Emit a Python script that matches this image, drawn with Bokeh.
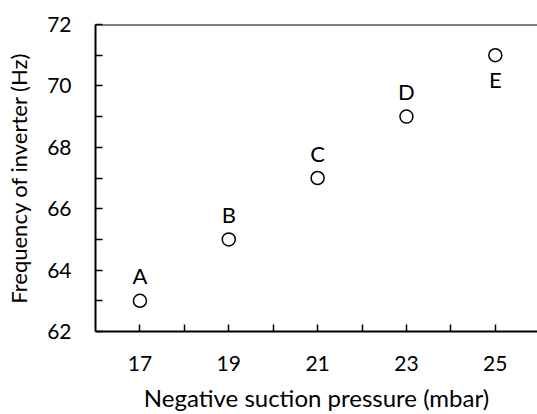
from bokeh.plotting import figure
from bokeh.models import FixedTicker, Span, Range1d
from bokeh.core.properties import value
from bokeh.embed import file_html
from bokeh.resources import INLINE

# Data
pressure = [17, 19, 21, 23, 25]
frequency = [63, 65, 67, 69, 71]
point_labels = ["A", "B", "C", "D", "E"]
x_ticks = [17, 19, 21, 23, 25]
x_minor = [18, 20, 22, 24]
y_ticks = [62, 64, 66, 68, 70, 72]
y_minor = [63, 65, 67, 69, 71]

FONT = "Lato"

p = figure(width=537, height=414, output_backend="svg", toolbar_location=None,
           x_range=Range1d(16, 25.95), y_range=Range1d(62, 72),
           min_border_left=95, min_border_right=0, min_border_top=24, min_border_bottom=82)
p.outline_line_color = None
p.grid.grid_line_color = None
p.background_fill_color = "white"
p.border_fill_color = "white"

p.xaxis.ticker = FixedTicker(ticks=x_ticks, minor_ticks=x_minor)
p.yaxis.ticker = FixedTicker(ticks=y_ticks, minor_ticks=y_minor)

for ax in (p.xaxis[0], p.yaxis[0]):
    ax.axis_line_width = 2
    ax.axis_line_color = "black"
    ax.major_tick_line_color = "black"
    ax.minor_tick_line_color = "black"
    ax.major_tick_line_width = 1.5
    ax.minor_tick_line_width = 1.5
    ax.major_tick_in = 7
    ax.major_tick_out = 0
    ax.minor_tick_in = 7
    ax.minor_tick_out = 0
    ax.major_label_text_font = FONT
    ax.major_label_text_font_size = "21px"
    ax.major_label_text_color = "black"
    ax.axis_label_text_font = FONT
    ax.axis_label_text_font_style = "normal"
    ax.axis_label_text_color = "black"

p.xaxis.axis_label = "Negative suction pressure (mbar)"
p.yaxis.axis_label = "Frequency of inverter (Hz)"
p.xaxis.axis_label_text_font_size = "24px"
p.yaxis.axis_label_text_font_size = "22px"
p.xaxis.major_label_standoff = 24
p.xaxis.axis_label_standoff = 9
p.yaxis.major_label_standoff = 24
p.yaxis.axis_label_standoff = 12

p.add_layout(Span(location=72, dimension="width", line_color="black", line_width=2))

p.scatter(pressure, frequency, marker="circle", size=13, line_color="black",
          line_width=1.5, fill_color="white")

p.text(pressure[:4], frequency[:4], text=point_labels[:4], text_font=value(FONT),
       text_font_size="22px", text_align="center", text_baseline="alphabetic",
       y_offset=-25, text_color="black")
p.text(pressure[4:], frequency[4:], text=point_labels[4:], text_font=value(FONT),
       text_font_size="22px", text_align="center", text_baseline="alphabetic",
       y_offset=24, text_color="black")

open("out.html", "w").write(file_html(p, INLINE))
